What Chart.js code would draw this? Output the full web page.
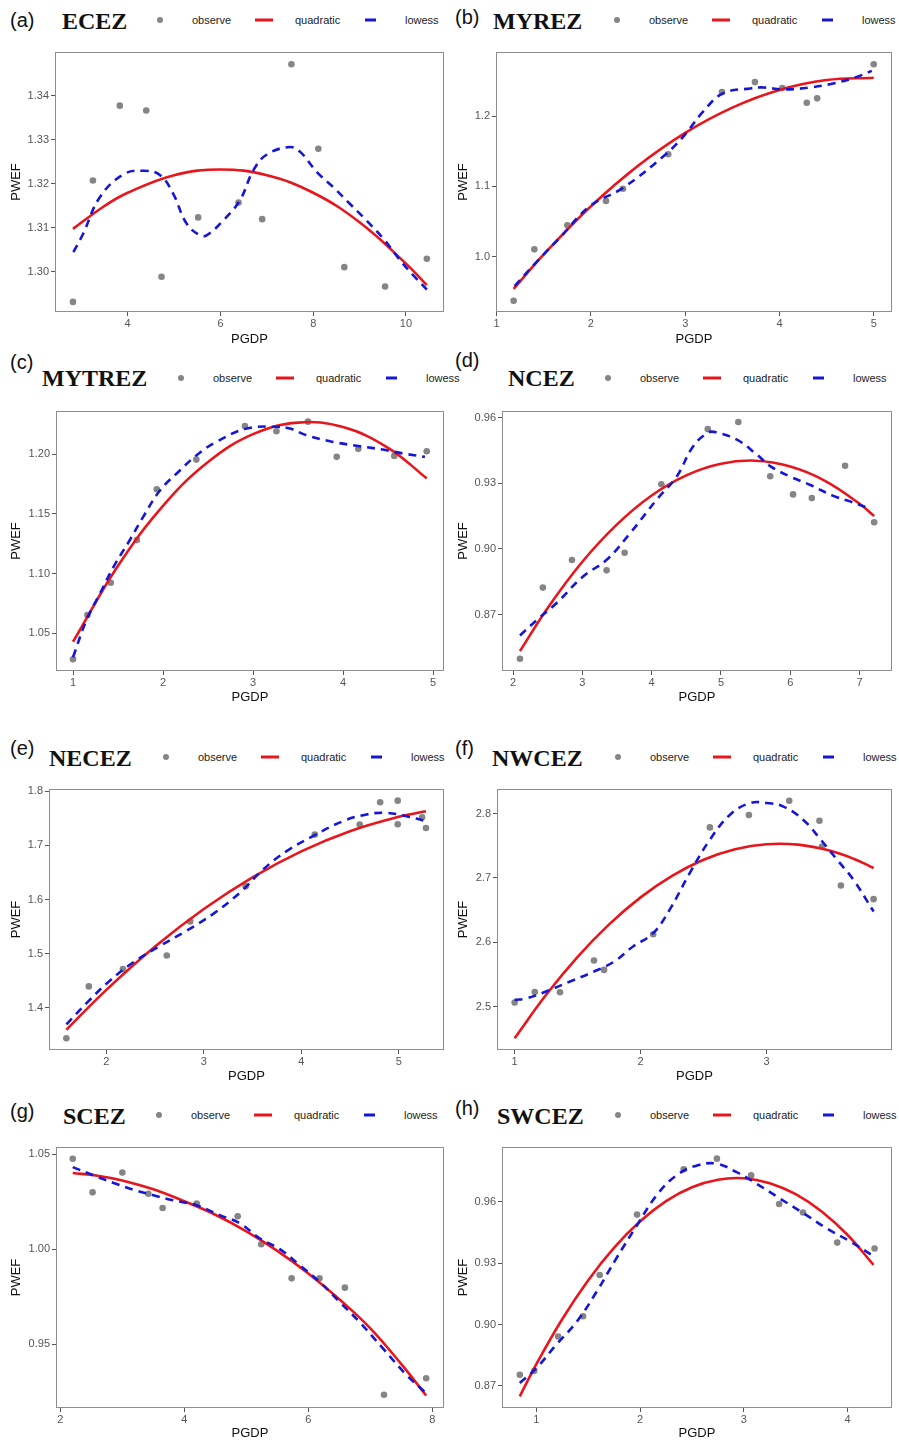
<!DOCTYPE html>
<html>
<head>
<meta charset="utf-8">
<title>PWEF vs PGDP</title>
<script src="https://cdn.jsdelivr.net/npm/chart.js@4.4.1/dist/chart.umd.min.js"></script>
<style>
    html, body { margin: 0; padding: 0; background: #fff; }
    body { width: 899px; height: 1444px; position: relative; overflow: hidden; font-family: "Liberation Sans", Arial, sans-serif; }
    canvas { position: absolute; }
    .tag { position: absolute; font-size: 20px; line-height: 1; color: #111; transform: translateY(-50%); z-index: 2; }
    .name { position: absolute; font-family: "Liberation Serif", "Times New Roman", serif; font-weight: bold; font-size: 24px; line-height: 1; color: #111; transform: translateY(-50%); z-index: 2; }
    .key-text { position: absolute; font-size: 11px; line-height: 1; color: #222; white-space: nowrap; transform: translateY(-50%); z-index: 2; }
    .key-mark { position: absolute; transform: translateY(-50%); z-index: 2; }
</style>
</head>
<body>
<script>
// ---- data ----

// (a) ECEZ
const ecezObsX = [2.82, 3.25, 3.83, 4.40, 4.73, 5.52, 6.39, 6.90, 7.53, 8.11, 8.67, 9.55, 10.45];
const ecezObsY = [1.2932, 1.3208, 1.3378, 1.3367, 1.2989, 1.3124, 1.3158, 1.3120, 1.3472, 1.3280, 1.3011, 1.2967, 1.3030];
const ecezQuadX = [2.82, 3.5, 4, 5, 6, 7, 8, 9, 10, 10.45];
const ecezQuadY = [1.3098, 1.3150, 1.3180, 1.3220, 1.3233, 1.3220, 1.3180, 1.3113, 1.3019, 1.2970];
const ecezLowX = [2.83, 3.04, 3.40, 3.91, 4.34, 4.70, 4.98, 5.27, 5.56, 5.70, 6.06, 6.42, 6.71, 7.00, 7.50, 7.72, 8.08, 8.43, 8.79, 9.15, 9.51, 9.87, 10.16, 10.45];
const ecezLowY = [1.3045, 1.3087, 1.3170, 1.3222, 1.3230, 1.3220, 1.3178, 1.3110, 1.3083, 1.3083, 1.3117, 1.3163, 1.3231, 1.3267, 1.3284, 1.3273, 1.3227, 1.3193, 1.3155, 1.3117, 1.3076, 1.3027, 1.2992, 1.2960];
const ecezXTicks = ['4', '6', '8', '10'];
const ecezYTicks = ['1.30', '1.31', '1.32', '1.33', '1.34'];

// (b) MYREZ
const myrezObsX = [1.18, 1.40, 1.75, 2.16, 2.34, 2.82, 3.39, 3.74, 4.03, 4.29, 4.40, 5.00];
const myrezObsY = [0.9373, 1.0104, 1.0448, 1.0792, 1.0967, 1.1458, 1.2344, 1.2486, 1.2401, 1.2193, 1.2255, 1.2740];
const myrezQuadX = [1.18, 1.5, 2, 2.5, 3, 3.5, 4, 4.5, 5];
const myrezQuadY = [0.9542, 1.0032, 1.0718, 1.1295, 1.1764, 1.2123, 1.2374, 1.2515, 1.2548];
const myrezLowX = [1.19, 1.42, 1.67, 1.99, 2.34, 2.77, 2.98, 3.19, 3.40, 3.69, 3.83, 4.04, 4.32, 4.57, 4.82, 4.98];
const myrezLowY = [0.958, 0.992, 1.027, 1.072, 1.098, 1.143, 1.171, 1.2066, 1.2325, 1.2396, 1.241, 1.2382, 1.241, 1.2467, 1.256, 1.2646];
const myrezXTicks = ['1', '2', '3', '4', '5'];
const myrezYTicks = ['1.0', '1.1', '1.2'];

// (c) MYTREZ
const mytrezObsX = [1.00, 1.16, 1.42, 1.71, 1.93, 2.37, 2.91, 3.26, 3.61, 3.93, 4.17, 4.57, 4.93];
const mytrezObsY = [1.0283, 1.0653, 1.0924, 1.1281, 1.1707, 1.1955, 1.2237, 1.2192, 1.2273, 1.1978, 1.2045, 1.1986, 1.2025];
const mytrezQuadX = [1.0, 1.5, 2.0, 2.5, 3.0, 3.5, 4.0, 4.5, 4.93];
const mytrezQuadY = [1.0430, 1.1066, 1.1568, 1.1935, 1.2168, 1.2265, 1.2227, 1.2054, 1.1798];
const mytrezLowX = [1.00, 1.15, 1.30, 1.45, 1.63, 1.78, 1.97, 2.19, 2.37, 2.59, 2.93, 3.26, 3.41, 3.59, 3.89, 4.19, 4.44, 4.67, 4.91];
const mytrezLowY = [1.0300, 1.0611, 1.0834, 1.1057, 1.1280, 1.1476, 1.1700, 1.1866, 1.1990, 1.2103, 1.2215, 1.2230, 1.2215, 1.2160, 1.2103, 1.2067, 1.2039, 1.2006, 1.1978];
const mytrezXTicks = ['1', '2', '3', '4', '5'];
const mytrezYTicks = ['1.05', '1.10', '1.15', '1.20'];

// (d) NCEZ
const ncezObsX = [2.10, 2.43, 2.85, 3.35, 3.61, 4.14, 4.81, 5.25, 5.71, 6.04, 6.31, 6.79, 7.21];
const ncezObsY = [0.8498, 0.8823, 0.8949, 0.8902, 0.8982, 0.9295, 0.9547, 0.9580, 0.9332, 0.9249, 0.9232, 0.9380, 0.9122];
const ncezQuadX = [2.1, 2.5, 3.0, 3.5, 4.0, 4.5, 5.0, 5.5, 6.0, 6.5, 7.0, 7.21];
const ncezQuadY = [0.8533, 0.8730, 0.8941, 0.9112, 0.9244, 0.9336, 0.9389, 0.9403, 0.9376, 0.9311, 0.9206, 0.9150];
const ncezLowX = [2.10, 2.34, 2.63, 3.01, 3.35, 3.69, 4.07, 4.36, 4.60, 4.82, 4.94, 5.23, 5.52, 5.71, 6.00, 6.29, 6.62, 6.86, 7.13];
const ncezLowY = [0.8604, 0.8674, 0.8753, 0.8874, 0.8950, 0.9072, 0.9224, 0.9330, 0.9469, 0.9532, 0.9532, 0.9499, 0.9430, 0.9378, 0.9330, 0.9292, 0.9242, 0.9217, 0.9186];
const ncezXTicks = ['2', '3', '4', '5', '6', '7'];
const ncezYTicks = ['0.87', '0.90', '0.93', '0.96'];

// (e) NECEZ
const necezObsX = [1.59, 1.82, 2.17, 2.62, 2.86, 3.43, 4.14, 4.60, 4.81, 4.99, 4.99, 5.24, 5.28];
const necezObsY = [1.3434, 1.4394, 1.4714, 1.4966, 1.5594, 1.6246, 1.7200, 1.7385, 1.7797, 1.7828, 1.7391, 1.7520, 1.7323];
const necezQuadX = [1.59, 2.0, 2.5, 3.0, 3.5, 4.0, 4.5, 5.0, 5.28];
const necezQuadY = [1.3593, 1.4330, 1.5131, 1.5825, 1.6411, 1.6891, 1.7263, 1.7528, 1.7630];
const necezLowX = [1.59, 1.80, 2.03, 2.27, 2.55, 2.82, 3.09, 3.37, 3.61, 3.85, 4.12, 4.43, 4.67, 4.87, 5.08, 5.28];
const necezLowY = [1.3692, 1.4090, 1.4490, 1.4830, 1.5140, 1.5420, 1.5726, 1.6126, 1.6557, 1.6895, 1.7171, 1.7449, 1.7572, 1.7603, 1.7540, 1.7450];
const necezXTicks = ['2', '3', '4', '5'];
const necezYTicks = ['1.4', '1.5', '1.6', '1.7', '1.8'];

// (f) NWCEZ
const nwcezObsX = [1.00, 1.16, 1.36, 1.63, 1.71, 2.10, 2.55, 2.86, 3.18, 3.42, 3.44, 3.59, 3.85];
const nwcezObsY = [2.5062, 2.5228, 2.5223, 2.5716, 2.5571, 2.6126, 2.7787, 2.7979, 2.8202, 2.7891, 2.7490, 2.6884, 2.6671];
const nwcezQuadX = [1.0, 1.25, 1.5, 1.75, 2.0, 2.25, 2.5, 2.75, 3.0, 3.25, 3.5, 3.7, 3.85];
const nwcezQuadY = [2.4507, 2.5183, 2.5774, 2.6279, 2.6699, 2.7033, 2.7283, 2.7446, 2.7525, 2.7519, 2.7427, 2.7292, 2.7155];
const nwcezLowX = [1.00, 1.10, 1.28, 1.44, 1.63, 1.79, 1.94, 2.10, 2.23, 2.39, 2.55, 2.71, 2.87, 3.00, 3.13, 3.29, 3.42, 3.56, 3.69, 3.85];
const nwcezLowY = [2.5104, 2.5130, 2.5260, 2.5390, 2.5545, 2.5700, 2.5934, 2.6142, 2.6505, 2.7076, 2.7595, 2.7984, 2.8166, 2.8166, 2.8114, 2.7907, 2.7621, 2.7284, 2.6972, 2.6479];
const nwcezXTicks = ['1', '2', '3'];
const nwcezYTicks = ['2.5', '2.6', '2.7', '2.8'];

// (g) SCEZ
const scezObsX = [2.20, 2.52, 3.00, 3.42, 3.65, 4.20, 4.86, 5.24, 5.73, 6.18, 6.59, 7.22, 7.90];
const scezObsY = [1.0477, 1.0300, 1.0405, 1.0293, 1.0218, 1.0241, 1.0174, 1.0027, 0.9847, 0.9847, 0.9798, 0.9234, 0.9321];
const scezQuadX = [2.2, 2.6, 3.0, 3.5, 4.0, 4.5, 5.0, 5.5, 6.0, 6.5, 7.0, 7.5, 7.9];
const scezQuadY = [1.0402, 1.0388, 1.0363, 1.0316, 1.0253, 1.0182, 1.0095, 0.9992, 0.9873, 0.9737, 0.9584, 0.9395, 0.9230];
const scezLowX = [2.20, 2.53, 2.85, 3.18, 3.50, 3.82, 4.20, 4.57, 4.90, 5.22, 5.54, 5.86, 6.18, 6.50, 6.82, 7.20, 7.58, 7.90];
const scezLowY = [1.0433, 1.0390, 1.0351, 1.0314, 1.0285, 1.0258, 1.0232, 1.0180, 1.0136, 1.0057, 1.0001, 0.9917, 0.9829, 0.9724, 0.9619, 0.9479, 0.9339, 0.9242];
const scezXTicks = ['2', '4', '6', '8'];
const scezYTicks = ['0.95', '1.00', '1.05'];

// (h) SWCEZ
const swcezObsX = [0.84, 0.98, 1.21, 1.45, 1.61, 1.97, 2.42, 2.74, 3.07, 3.34, 3.57, 3.90, 4.26];
const swcezObsY = [0.8754, 0.8773, 0.8941, 0.9040, 0.9242, 0.9538, 0.9760, 0.9812, 0.9730, 0.9590, 0.9548, 0.9401, 0.9372];
const swcezQuadX = [0.84, 1.0, 1.25, 1.5, 1.75, 2.0, 2.25, 2.5, 2.75, 3.0, 3.25, 3.5, 3.75, 4.0, 4.25];
const swcezQuadY = [0.8648, 0.8806, 0.9027, 0.9217, 0.9376, 0.9505, 0.9604, 0.9672, 0.9709, 0.9716, 0.9692, 0.9638, 0.9553, 0.9438, 0.9292];
const swcezLowX = [0.84, 1.00, 1.19, 1.39, 1.58, 1.77, 1.97, 2.16, 2.35, 2.55, 2.74, 2.93, 3.12, 3.35, 3.58, 3.80, 4.03, 4.26];
const swcezLowY = [0.8713, 0.8786, 0.8900, 0.9014, 0.9160, 0.9323, 0.9486, 0.9633, 0.9730, 0.9779, 0.9787, 0.9746, 0.9690, 0.9616, 0.9543, 0.9470, 0.9405, 0.9331];
const swcezXTicks = ['1', '2', '3', '4'];
const swcezYTicks = ['0.87', '0.90', '0.93', '0.96'];

const seriesNames = ['observe', 'quadratic', 'lowess'];

const panels = [
    { tag: '(a)', name: 'ECEZ', obs: [ecezObsX, ecezObsY], quad: [ecezQuadX, ecezQuadY], low: [ecezLowX, ecezLowY], xTicks: ecezXTicks, yTicks: ecezYTicks, xRange: [2.433, 10.82], yRange: [1.2909, 1.350] },
    { tag: '(b)', name: 'MYREZ', obs: [myrezObsX, myrezObsY], quad: [myrezQuadX, myrezQuadY], low: [myrezLowX, myrezLowY], xTicks: myrezXTicks, yTicks: myrezYTicks, xRange: [0.993, 5.194], yRange: [0.9212, 1.2915] },
    { tag: '(c)', name: 'MYTREZ', obs: [mytrezObsX, mytrezObsY], quad: [mytrezQuadX, mytrezQuadY], low: [mytrezLowX, mytrezLowY], xTicks: mytrezXTicks, yTicks: mytrezYTicks, xRange: [0.811, 5.122], yRange: [1.0185, 1.2362] },
    { tag: '(d)', name: 'NCEZ', obs: [ncezObsX, ncezObsY], quad: [ncezQuadX, ncezQuadY], low: [ncezLowX, ncezLowY], xTicks: ncezXTicks, yTicks: ncezYTicks, xRange: [1.841, 7.467], yRange: [0.8442, 0.963] },
    { tag: '(e)', name: 'NECEZ', obs: [necezObsX, necezObsY], quad: [necezQuadX, necezQuadY], low: [necezLowX, necezLowY], xTicks: necezXTicks, yTicks: necezYTicks, xRange: [1.4116, 5.465], yRange: [1.3218, 1.8043] },
    { tag: '(f)', name: 'NWCEZ', obs: [nwcezObsX, nwcezObsY], quad: [nwcezQuadX, nwcezQuadY], low: [nwcezLowX, nwcezLowY], xTicks: nwcezXTicks, yTicks: nwcezYTicks, xRange: [0.86, 3.996], yRange: [2.4325, 2.8384] },
    { tag: '(g)', name: 'SCEZ', obs: [scezObsX, scezObsY], quad: [scezQuadX, scezQuadY], low: [scezLowX, scezLowY], xTicks: scezXTicks, yTicks: scezYTicks, xRange: [1.93, 8.188], yRange: [0.9164, 1.0539] },
    { tag: '(h)', name: 'SWCEZ', obs: [swcezObsX, swcezObsY], quad: [swcezQuadX, swcezQuadY], low: [swcezLowX, swcezLowY], xTicks: swcezXTicks, yTicks: swcezYTicks, xRange: [0.6685, 4.428], yRange: [0.8591, 0.9869] }
];

// ---- page layout (pixels) ----
// area = plot panel [left, top, right, bottom]; canvas spans top..bottom
const layout = [
    { left: 0,   width: 450, top: 38,   bottom: 349,  area: [55, 52, 444, 312],     tag: [10, 20],    name: [62, 21],    legend: [160, 20] },
    { left: 450, width: 449, top: 38,   bottom: 349,  area: [496, 52, 892, 312],    tag: [455, 17],   name: [493, 21],   legend: [617, 20] },
    { left: 0,   width: 450, top: 397,  bottom: 707,  area: [56, 411, 444, 671],    tag: [10, 362],   name: [42, 378],   legend: [181, 378] },
    { left: 450, width: 449, top: 397,  bottom: 707,  area: [502, 411, 892, 671],   tag: [455, 360],  name: [508, 378],  legend: [608, 378] },
    { left: 0,   width: 450, top: 775,  bottom: 1086, area: [49, 789, 444, 1050],   tag: [10, 748],   name: [49, 758],   legend: [166, 757] },
    { left: 450, width: 449, top: 775,  bottom: 1086, area: [497, 789, 892, 1050],  tag: [455, 748],  name: [492, 758],  legend: [618, 757] },
    { left: 0,   width: 450, top: 1133, bottom: 1443, area: [56, 1147, 444, 1408],  tag: [10, 1111],  name: [63, 1116],  legend: [159, 1115] },
    { left: 450, width: 449, top: 1133, bottom: 1443, area: [502, 1147, 892, 1408], tag: [455, 1108], name: [497, 1116], legend: [618, 1115] }
];

const RED = '#e8161c';
const BLUE = '#1616d6';
const GREY = '#858585';

Chart.defaults.font.family = '"Liberation Sans", Arial, sans-serif';

function place(el, x, y) {
    el.style.left = x + 'px';
    el.style.top = y + 'px';
    document.body.appendChild(el);
    return el;
}

function textEl(cls, text) {
    const el = document.createElement('div');
    el.className = cls;
    el.textContent = text;
    return el;
}

function markEl(w, h, color, radius) {
    const el = document.createElement('div');
    el.className = 'key-mark';
    el.style.width = w + 'px';
    el.style.height = h + 'px';
    el.style.background = color;
    if (radius) el.style.borderRadius = radius;
    return el;
}

// "(a)  ECEZ   • observe  — quadratic  - lowess"
function drawHeader(p, L) {
    place(textEl('tag', p.tag), L.tag[0], L.tag[1]);
    place(textEl('name', p.name), L.name[0], L.name[1]);
    const [lx, ly] = L.legend;
    place(markEl(6, 6, GREY, '50%'), lx - 3, ly);
    place(textEl('key-text', seriesNames[0]), lx + 32, ly);
    place(markEl(18, 3, RED), lx + 95, ly);
    place(textEl('key-text', seriesNames[1]), lx + 135, ly);
    place(markEl(11, 3, BLUE), lx + 205, ly);
    place(textEl('key-text', seriesNames[2]), lx + 245, ly);
}

function toPoints(xs, ys) {
    return xs.map((x, i) => ({ x: x, y: ys[i] }));
}

// grey frame round the plot panel
const panelBorder = {
    id: 'panelBorder',
    afterDatasetsDraw(chart) {
        const { ctx, chartArea: a } = chart;
        ctx.save();
        ctx.strokeStyle = '#8e8e8e';
        ctx.lineWidth = 1;
        ctx.strokeRect(a.left + 0.5, a.top + 0.5, a.width - 1, a.height - 1);
        ctx.restore();
    }
};

function drawPanel(p, L) {
    const canvas = document.createElement('canvas');
    canvas.width = L.width;
    canvas.height = L.bottom - L.top;
    canvas.style.left = L.left + 'px';
    canvas.style.top = L.top + 'px';
    document.body.appendChild(canvas);

    const [l, t, r, b] = L.area;
    const yAxisWidth = l - L.left;
    const xAxisHeight = L.bottom - b;
    const yTitlePad = L.left === 0 ? 9 : 6;

    new Chart(canvas, {
        type: 'scatter',
        data: {
            datasets: [
                {
                    label: seriesNames[2],
                    data: toPoints(p.low[0], p.low[1]),
                    showLine: true,
                    borderColor: BLUE,
                    borderWidth: 2.6,
                    borderDash: [8, 6],
                    tension: 0.4,
                    pointRadius: 0,
                    fill: false
                },
                {
                    label: seriesNames[1],
                    data: toPoints(p.quad[0], p.quad[1]),
                    showLine: true,
                    borderColor: RED,
                    borderWidth: 2.6,
                    tension: 0.4,
                    pointRadius: 0,
                    fill: false
                },
                {
                    label: seriesNames[0],
                    data: toPoints(p.obs[0], p.obs[1]),
                    showLine: false,
                    pointRadius: 3.3,
                    pointBorderWidth: 0,
                    pointBackgroundColor: GREY
                }
            ]
        },
        options: {
            responsive: false,
            animation: false,
            devicePixelRatio: 1,
            layout: { padding: { top: t - L.top, right: L.left + L.width - r, left: 0, bottom: 0 } },
            plugins: {
                legend: { display: false },
                tooltip: { enabled: false }
            },
            scales: {
                x: {
                    type: 'linear',
                    min: p.xRange[0],
                    max: p.xRange[1],
                    afterFit: (s) => { s.height = xAxisHeight; },
                    afterBuildTicks: (s) => { s.ticks = p.xTicks.map(v => ({ value: Number(v) })); },
                    grid: { display: true, drawOnChartArea: false, drawTicks: true, tickLength: 4, color: '#555' },
                    border: { display: false },
                    ticks: {
                        callback: (v, i) => p.xTicks[i],
                        color: '#555',
                        font: { size: 11 },
                        padding: 1,
                        maxRotation: 0,
                        autoSkip: false
                    },
                    title: { display: true, text: 'PGDP', color: '#111', font: { size: 13 }, padding: { top: 0, bottom: 2 } }
                },
                y: {
                    type: 'linear',
                    min: p.yRange[0],
                    max: p.yRange[1],
                    afterFit: (s) => { s.width = yAxisWidth; },
                    afterBuildTicks: (s) => { s.ticks = p.yTicks.map(v => ({ value: Number(v) })); },
                    grid: { display: true, drawOnChartArea: false, drawTicks: true, tickLength: 4, color: '#555' },
                    border: { display: false },
                    ticks: {
                        callback: (v, i) => p.yTicks[i],
                        color: '#555',
                        font: { size: 11 },
                        padding: 2,
                        autoSkip: false
                    },
                    title: { display: true, text: 'PWEF', color: '#111', font: { size: 13 }, padding: { top: yTitlePad, bottom: 0 } }
                }
            }
        },
        plugins: [panelBorder]
    });
}

panels.forEach((p, i) => {
    drawPanel(p, layout[i]);
    drawHeader(p, layout[i]);
});
</script>
</body>
</html>
